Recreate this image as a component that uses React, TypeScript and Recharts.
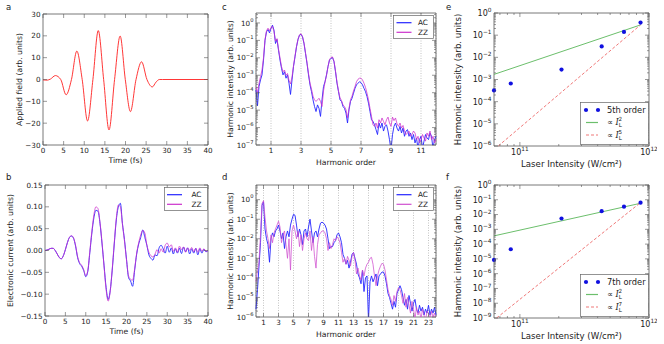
import React from 'react';
import {
  LineChart,
  ComposedChart,
  Line,
  Scatter,
  XAxis,
  YAxis,
  CartesianGrid,
  ReferenceArea,
  Legend,
} from 'recharts';

// ---------------- data ----------------

// a: applied field (arb. units) vs time (fs), read at extrema / zero crossings
const fieldTime = [0, 1, 1.8, 3.0, 4.3, 5.6, 6.9, 8.2, 9.5, 10.8, 12.1, 13.4, 14.7, 16.0, 17.35, 18.7, 19.95, 21.2, 22.55, 23.9, 25.2, 26.5, 27.4, 28.2, 29, 40];
const fieldValue = [-0.2, -0.3, 0.2, 1.8, 0, -7.0, 0, 13.0, 0, -19.0, 0, 22.4, 0, -23.1, 0, 19.9, 0, -14.7, 0, 8.1, 0, -3.4, -1.2, 0, 0, 0];
const timeTicks = [0, 5, 10, 15, 20, 25, 30, 35, 40];
const fieldTicks = [-30, -20, -10, 0, 10, 20, 30];

// b: electronic current, sampled every 0.5 fs from 0 to 40 fs
const acCurrent = [
  0.0, 0.001, 0.003, 0.005, 0.005, 0.0, -0.008, -0.016, -0.019, -0.012,
  0.002, 0.018, 0.03, 0.033, 0.028, 0.01, -0.016, -0.03, -0.036, -0.046,
  -0.06, -0.048, -0.005, 0.04, 0.075, 0.092, 0.09, 0.062, 0.015, -0.035,
  -0.085, -0.112, -0.092, -0.045, 0.015, 0.07, 0.1, 0.108, 0.062, 0.025,
  -0.02, -0.062, -0.07, -0.082, -0.045, -0.008, 0.015, 0.03, 0.047, 0.03,
  0.012, -0.01, -0.018, -0.022, -0.01, -0.012, 0.006, 0.012, 0.004, -0.006,
  0.01, -0.004, 0.006, -0.008, 0.004, -0.006, 0.005, -0.007, 0.008, -0.003,
  0.006, -0.008, 0.004, -0.006, 0.005, -0.01, 0.004, -0.006, 0.003, -0.003,
  0.0,
];
const zzCurrent = [
  0.0, 0.001, 0.003, 0.005, 0.005, 0.0, -0.008, -0.016, -0.019, -0.012,
  0.002, 0.018, 0.03, 0.034, 0.029, 0.012, -0.014, -0.028, -0.034, -0.044,
  -0.058, -0.046, -0.002, 0.044, 0.082, 0.1, 0.096, 0.064, 0.018, -0.038,
  -0.09, -0.116, -0.094, -0.042, 0.018, 0.074, 0.104, 0.1, 0.06, 0.022,
  -0.022, -0.058, -0.066, -0.068, -0.042, -0.006, 0.018, 0.036, 0.046, 0.04,
  0.012, -0.004, -0.012, -0.015, -0.008, 0.002, -0.006, 0.004, -0.004, 0.012,
  0.017, 0.008, 0.013, -0.002, 0.006, -0.004, 0.01, 0.002, 0.008, -0.004,
  0.006, 0.0, 0.007, -0.003, 0.005, -0.004, 0.006, -0.002, 0.004, -0.002,
  0.0,
];
const currentTicks = [-0.15, -0.1, -0.05, 0, 0.05, 0.1, 0.15];

// c: log10 of harmonic intensity, harmonic order 0..12 in steps of 0.1
const acSpectrumC = [
  -3.84, -4.75, -3.65, -3.27, -2.98, -2.13, -1.0, -0.51, -0.38, -0.57,
  -0.32, -0.13, -0.42, -1.18, -0.95, -1.56, -2.13, -2.6, -2.98, -2.8,
  -3.17, -2.98, -3.46, -4.1, -3.27, -2.5, -1.94, -1.37, -0.95, -0.7,
  -0.65, -0.8, -1.18, -1.75, -2.32, -2.98, -3.55, -3.94, -4.41, -4.79,
  -5.08, -4.7, -4.9, -5.36, -4.41, -3.65, -3.37, -2.98, -2.5, -2.13,
  -2.03, -1.98, -2.22, -2.8, -3.46, -3.94, -4.41, -4.5, -4.79, -4.9,
  -5.17, -5.74, -4.98, -4.5, -4.32, -4.03, -3.75, -3.55, -3.46, -3.37,
  -3.42, -3.55, -3.75, -3.94, -4.22, -4.6, -5.08, -5.55, -5.65, -5.84,
  -6.12, -6.4, -5.74, -6.03, -5.74, -6.2, -5.93, -5.84, -6.2, -6.7,
  -7.3, -6.4, -5.93, -5.74, -6.03, -6.2, -5.93, -6.31, -6.03, -6.5,
  -6.2, -6.12, -6.5, -6.31, -6.69, -6.4, -6.88, -6.6, -7.2, -6.69,
  -6.5, -7.2, -6.78, -6.4, -6.6, -6.69, -6.31, -6.5, -7.2, -6.69,
  -6.5,
];
const zzSpectrumC = [
  -3.7, -4.0, -3.46, -3.08, -2.7, -2.0, -0.95, -0.45, -0.3, -0.45,
  -0.25, -0.2, -0.5, -1.05, -0.9, -1.5, -2.0, -2.5, -2.8, -2.7,
  -3.0, -2.9, -3.3, -3.5, -3.1, -2.45, -1.9, -1.35, -0.93, -0.68,
  -0.62, -0.78, -1.15, -1.7, -2.28, -2.9, -3.45, -3.8, -4.2, -4.41,
  -4.5, -4.41, -4.32, -4.5, -4.79, -3.9, -3.4, -3.0, -2.5, -2.1,
  -1.98, -1.95, -2.2, -2.75, -3.4, -3.9, -4.3, -4.45, -4.7, -4.8,
  -4.98, -5.45, -4.9, -4.4, -4.2, -3.9, -3.65, -3.37, -3.23, -3.17,
  -3.17, -3.27, -3.46, -3.7, -4.03, -4.41, -4.9, -5.36, -5.84, -5.93,
  -5.74, -6.03, -5.55, -5.74, -5.45, -5.65, -5.84, -5.55, -5.4, -5.74,
  -5.93, -5.4, -5.6, -5.45, -5.78, -5.93, -5.74, -6.03, -5.88, -6.2,
  -6.4, -6.31, -6.2, -6.5, -6.4, -6.2, -6.31, -6.69, -6.5, -6.88,
  -6.69, -6.4, -6.6, -6.78, -6.31, -6.5, -6.2, -6.69, -6.5, -6.88,
  -6.69,
];
const harmonicTicksC = [1, 3, 5, 7, 9, 11];
const decadesC = [-7, -6, -5, -4, -3, -2, -1, 0];

// d: log10 of harmonic intensity, harmonic order 0..24 in steps of 0.2
const acSpectrumD = [
  -5.6, -4.6, -3.4, -2.2, -0.3,
  -0.1, -1.5, -2.0, -2.3, -3.2,
  -2.0, -1.7, -1.9, -1.6, -1.5,
  -1.3, -1.6, -2.0, -1.7, -2.5,
  -1.9, -1.6, -1.9, -1.3, -1.0,
  -0.75, -0.8, -1.3, -1.9, -1.5,
  -1.8, -2.3, -1.6, -1.5, -1.9,
  -1.4, -1.0, -1.6, -2.2, -1.7,
  -1.6, -1.9, -1.5, -1.2, -1.15,
  -1.2, -1.3, -1.5, -2.0, -2.5,
  -2.4, -2.4, -2.2, -2.1, -1.8,
  -1.7, -1.9, -2.2, -2.8, -3.0,
  -3.3, -3.1, -3.5, -3.2, -2.8,
  -2.7, -3.0, -3.3, -3.8, -4.0,
  -4.3, -3.6, -4.7, -4.0, -3.9,
  -6.2, -4.2, -3.9, -4.2, -4.0,
  -3.8, -4.4, -3.9, -3.8, -3.7,
  -3.7, -3.9, -4.3, -4.8, -5.0,
  -5.3, -5.6, -5.2, -5.5, -4.8,
  -4.6, -4.4, -4.6, -5.0, -5.4,
  -5.1, -5.6, -4.9, -5.3, -5.7,
  -5.3, -5.1, -5.6, -5.8, -5.4,
  -5.7, -5.5, -5.9, -5.6, -5.8,
  -5.4, -5.9, -5.6, -5.8, -5.5,
  -5.9,
];
const zzSpectrumD = [
  -4.2, -3.6, -3.2, -1.8, -0.2,
  -0.05, -0.9, -1.6, -2.0, -2.5,
  -1.8, -2.2, -1.7, -1.5, -1.3,
  -1.1, -1.4, -2.2, -1.8, -1.6,
  -2.3, -3.0, -2.0, -3.6, -1.6,
  -1.3, -1.6, -2.0, -1.6, -2.4,
  -1.8, -2.6, -2.0, -1.7, -2.0,
  -2.1, -1.6, -2.6, -1.9, -2.9,
  -3.5, -2.3, -1.8, -1.7, -1.6,
  -1.6, -1.7, -2.0, -2.6, -2.2,
  -2.5, -2.3, -2.0, -2.1, -1.9,
  -2.0, -2.2, -2.7, -3.2, -3.0,
  -3.3, -2.9, -3.1, -3.4, -2.9,
  -2.7, -3.1, -3.8, -3.5, -3.9,
  -4.1, -3.6, -3.9, -3.5, -3.3,
  -3.2, -3.0, -2.95, -3.3, -3.9,
  -4.4, -3.9, -3.6, -3.4, -3.25,
  -3.3, -3.6, -4.1, -4.6, -4.9,
  -5.1, -5.4, -4.9, -5.2, -4.7,
  -4.5, -4.6, -4.9, -5.3, -4.8,
  -5.5, -5.0, -5.4, -5.8, -5.2,
  -5.6, -6.1, -5.5, -5.9, -5.7,
  -6.1, -5.6, -5.9, -6.2, -5.7,
  -5.8, -6.1, -5.7, -6.0, -5.8,
  -6.1,
];
const harmonicTicksD = [1, 3, 5, 7, 9, 11, 13, 15, 17, 19, 21, 23];
const decadesD = [-6, -5, -4, -3, -2, -1, 0];

// e / f: harmonic intensity vs laser intensity (W/cm^2)
const laserIntensity = [6.3e10, 8.5e10, 2.1e11, 4.3e11, 6.4e11, 8.6e11];
const fifthOrder = [3.2e-4, 6.6e-4, 2.8e-3, 3.1e-2, 0.14, 0.37];
const seventhOrder = [8.5e-6, 4.5e-5, 5.4e-3, 1.7e-2, 3.4e-2, 6.4e-2];
const fitQuadE = [{ x: 6.3e10, y: 1.7e-3 }, { x: 8.6e11, y: 0.29 }];
const fitFifthE = [{ x: 6.8e10, y: 1e-6 }, { x: 8.6e11, y: 0.29 }];
const fitQuadF = [{ x: 6.3e10, y: 3.6e-4 }, { x: 8.6e11, y: 5.8e-2 }];
const fitSeventhF = [{ x: 6.6e10, y: 1e-9 }, { x: 8.6e11, y: 6.5e-2 }];
const laserTicks = [1e11, 1e12];
const decadesE = [1e-6, 1e-5, 1e-4, 1e-3, 1e-2, 1e-1, 1];
const decadesF = [1e-9, 1e-8, 1e-7, 1e-6, 1e-5, 1e-4, 1e-3, 1e-2, 1e-1, 1];

// ---------------- styling / layout ----------------

const FONT = '"DejaVu Sans", "Liberation Sans", sans-serif';
const INK = '#222';
const FRAME = '#555';
const RED = '#ff2020';
const BLUE = '#2424ff';
const MAGENTA = '#cc30cc';
const MAGENTA_D = '#d050d0';
const GREEN = '#6cbf6c';
const PINK = '#f07878';
const DOT = '#1010e0';

// a-d and e-f come from differently scaled figures, so text sizes differ
type Fonts = { tick: number; label: number; legend: number; sup: number };
const FS_LEFT: Fonts = { tick: 7.2, label: 7.7, legend: 7.3, sup: 5.2 };
const FS_RIGHT: Fonts = { tick: 8, label: 8.6, legend: 8.3, sup: 5.8 };

const ML = 56, MT = 14, MR = 8, MB = 30;
type Box = { x: number; y: number; w: number; h: number };
const BOX_A: Box = { x: 43, y: 14, w: 165, h: 131 };
const BOX_B: Box = { x: 45, y: 185, w: 163, h: 131 };
const BOX_C: Box = { x: 256, y: 13, w: 180, h: 132 };
const BOX_D: Box = { x: 256, y: 185, w: 180, h: 132 };
const BOX_E: Box = { x: 494, y: 13, w: 155, h: 133 };
const BOX_F: Box = { x: 494, y: 185, w: 155, h: 133 };

const place = (b: Box): React.CSSProperties => ({ position: 'absolute', left: b.x - ML, top: b.y - MT });
const dims = (b: Box) => ({
  width: b.w + ML + MR,
  height: b.h + MT + MB,
  margin: { top: MT, right: MR, bottom: 0, left: 0 },
});

const minus = (s: string) => s.replace('-', '\u2212');
const pow10 = (n: number, sup: number) => (
  <>
    10<tspan dy={-3.8} fontSize={sup}>{minus(String(n))}</tspan>
  </>
);
const isInt = (v: number) => Math.abs(v - Math.round(v)) < 1e-6;
const isDecade = (v: number) => isInt(Math.log10(v));

// minor tick positions for axes that hold log10 values
const logMinor = (lo: number, hi: number) => {
  const out: number[] = [];
  for (let n = Math.floor(lo); n < hi; n++) {
    for (let k = 2; k <= 9; k++) {
      const v = n + Math.log10(k);
      if (v > lo && v < hi) out.push(v);
    }
  }
  return out;
};
// minor tick positions for true log axes
const valueMinor = (decades: number[], lo: number, hi: number) => {
  const out: number[] = [];
  decades.forEach((d) => {
    for (let k = 2; k <= 9; k++) {
      const v = d * k;
      if (v > lo && v < hi) out.push(v);
    }
  });
  return out;
};

const xTick = (b: Box, fs: number, fmt: (v: number) => React.ReactNode, major: (v: number) => boolean = () => true) =>
  (p: any) => {
    const { x, y, payload } = p;
    const m = major(payload.value);
    const len = m ? 4 : 2;
    return (
      <g>
        <line x1={x} x2={x} y1={y} y2={y - len} stroke={FRAME} strokeWidth={0.6} />
        <line x1={x} x2={x} y1={y - b.h} y2={y - b.h + len} stroke={FRAME} strokeWidth={0.6} />
        {m && (
          <text x={x} y={y + fs + 0.8} textAnchor="middle" fontSize={fs} fill={INK}>
            {fmt(payload.value)}
          </text>
        )}
      </g>
    );
  };

const yTick = (b: Box, fs: number, fmt: (v: number) => React.ReactNode, major: (v: number) => boolean = () => true) =>
  (p: any) => {
    const { x, y, payload } = p;
    const m = major(payload.value);
    const len = m ? 4 : 2;
    return (
      <g>
        <line x1={x} x2={x + len} y1={y} y2={y} stroke={FRAME} strokeWidth={0.6} />
        <line x1={x + b.w} x2={x + b.w - len} y1={y} y2={y} stroke={FRAME} strokeWidth={0.6} />
        {m && (
          <text x={x - 2.5} y={y + fs * 0.36} textAnchor="end" fontSize={fs} fill={INK}>
            {fmt(payload.value)}
          </text>
        )}
      </g>
    );
  };

const xTitle = (b: Box, fs: number, text: React.ReactNode, dy: number) => () => (
  <text x={ML + b.w / 2} y={MT + b.h + dy} textAnchor="middle" fontSize={fs} fill={INK}>
    {text}
  </text>
);

const yTitle = (b: Box, fs: number, text: string, dx: number, letter: string, lx: number, ly: number) => () => (
  <g>
    <text
      transform={`translate(${ML + dx},${MT + b.h / 2}) rotate(-90)`}
      textAnchor="middle"
      fontSize={fs}
      fill={INK}
    >
      {text}
    </text>
    <text x={ML + lx} y={MT + ly} fontSize={8.5} fill={INK}>
      {letter}
    </text>
  </g>
);

const axisBase = { axisLine: false, tickLine: false, tickSize: 0, tickMargin: 0, interval: 0 as const };

type Item = { label: React.ReactNode; color: string; kind: 'line' | 'dash' | 'dots' };
const legendAt = (
  b: Box, fs: number, px: number, py: number, w: number, h: number,
  items: Item[], rows: number[], x0: number, x1: number, tx: number,
) => (
  <Legend
    verticalAlign="middle"
    align="center"
    layout="horizontal"
    wrapperStyle={{ left: px - (b.x - ML), top: py - (b.y - MT), width: w, height: h, margin: 0, padding: 0 }}
    content={() => (
      <svg width={w} height={h} style={{ display: 'block', fontFamily: FONT }}>
        <rect x={0.5} y={0.5} width={w - 1} height={h - 1} fill="#fff" stroke="#666" strokeWidth={0.7} />
        {items.map((it, i) => (
          <g key={i}>
            {it.kind === 'dots' ? (
              <>
                <circle cx={x0} cy={rows[i]} r={2.1} fill={it.color} />
                <circle cx={x1} cy={rows[i]} r={2.1} fill={it.color} />
              </>
            ) : (
              <line
                x1={x0}
                x2={x1}
                y1={rows[i]}
                y2={rows[i]}
                stroke={it.color}
                strokeWidth={1.2}
                strokeDasharray={it.kind === 'dash' ? '3 2' : undefined}
              />
            )}
            <text x={tx} y={rows[i] + fs * 0.36} fontSize={fs} fill={INK}>
              {it.label}
            </text>
          </g>
        ))}
      </svg>
    )}
  />
);

const propLabel = (n: number) => (
  <>
    {'\u221D '}
    <tspan fontStyle="italic" fontFamily="'DejaVu Serif', serif">I</tspan>
    <tspan fontSize={5.6} dy={2}>L</tspan>
    <tspan fontSize={5.6} dx={-3.4} dy={-6}>{n}</tspan>
  </>
);

// ---------------- panels ----------------

const fieldRows = fieldTime.map((t, i) => ({ t, v: fieldValue[i] }));
const currentRows = acCurrent.map((ac, i) => ({ t: i * 0.5, ac, zz: zzCurrent[i] }));
const spectrumRowsC = acSpectrumC.map((ac, i) => ({ h: i / 10, ac, zz: zzSpectrumC[i] }));
const spectrumRowsD = acSpectrumD.map((ac, i) => ({ h: Math.round(i * 2) / 10, ac, zz: zzSpectrumD[i] }));

function PanelA() {
  const b = BOX_A;
  const f = FS_LEFT;
  return (
    <div style={place(b)}>
      <LineChart {...dims(b)} data={fieldRows}>
        <XAxis
          dataKey="t"
          type="number"
          domain={[0, 40]}
          ticks={timeTicks}
          height={MB}
          {...axisBase}
          tick={xTick(b, f.tick, (v) => v)}
          label={xTitle(b, f.label, 'Time (fs)', 17.7)}
        />
        <YAxis
          type="number"
          domain={[-30, 30]}
          ticks={fieldTicks}
          width={ML}
          {...axisBase}
          tick={yTick(b, f.tick, (v) => minus(String(v)))}
          label={yTitle(b, f.label, 'Applied field (arb. units)', -20.8, 'a', -37, -4.5)}
        />
        <ReferenceArea x1={0} x2={40} y1={-30} y2={30} fill="none" stroke={FRAME} strokeWidth={0.8} ifOverflow="visible" />
        <Line dataKey="v" type="monotone" stroke={RED} strokeWidth={0.9} dot={false} isAnimationActive={false} />
      </LineChart>
    </div>
  );
}

function PanelB() {
  const b = BOX_B;
  const f = FS_LEFT;
  return (
    <div style={place(b)}>
      <LineChart {...dims(b)} data={currentRows}>
        <XAxis
          dataKey="t"
          type="number"
          domain={[0, 40]}
          ticks={timeTicks}
          height={MB}
          {...axisBase}
          tick={xTick(b, f.tick, (v) => v)}
          label={xTitle(b, f.label, 'Time (fs)', 18)}
        />
        <YAxis
          type="number"
          domain={[-0.15, 0.15]}
          ticks={currentTicks}
          width={ML}
          {...axisBase}
          tick={yTick(b, f.tick, (v) => minus(v.toFixed(2)))}
          label={yTitle(b, f.label, 'Electronic current (arb. units)', -32.3, 'b', -39, -5.5)}
        />
        <ReferenceArea x1={0} x2={40} y1={-0.15} y2={0.15} fill="none" stroke={FRAME} strokeWidth={0.8} ifOverflow="visible" />
        <Line dataKey="ac" type="monotone" stroke={BLUE} strokeWidth={0.9} dot={false} isAnimationActive={false} />
        <Line dataKey="zz" type="monotone" stroke={MAGENTA} strokeOpacity={0.85} strokeWidth={0.9} dot={false} isAnimationActive={false} />
        {legendAt(
          b, f.legend, 164, 187, 44, 24,
          [
            { label: 'AC', color: BLUE, kind: 'line' },
            { label: 'ZZ', color: MAGENTA, kind: 'line' },
          ],
          [7.7, 17.3], 3, 18, 27.5,
        )}
      </LineChart>
    </div>
  );
}

type SpecProps = {
  b: Box;
  rows: { h: number; ac: number; zz: number }[];
  xMax: number;
  xTicks: number[];
  decades: number[];
  yHi: number;
  letter: string;
  zz: string;
};

function SpectrumPanel({ b, rows, xMax, xTicks, decades, yHi, letter, zz }: SpecProps) {
  const f = FS_LEFT;
  const yLo = decades[0];
  const yTicks = [...decades, ...logMinor(yLo, yHi)];
  return (
    <div style={place(b)}>
      <LineChart {...dims(b)} data={rows}>
        <CartesianGrid horizontal={false} stroke="#9a9a9a" strokeWidth={0.6} strokeDasharray="1 1.5" />
        <XAxis
          dataKey="h"
          type="number"
          domain={[0, xMax]}
          ticks={xTicks}
          height={MB}
          {...axisBase}
          tick={xTick(b, f.tick, (v) => v)}
          label={xTitle(b, f.label, 'Harmonic order', 19.7)}
        />
        <YAxis
          type="number"
          domain={[yLo, yHi]}
          allowDataOverflow
          ticks={yTicks}
          width={ML}
          {...axisBase}
          tick={yTick(b, f.tick, (v) => pow10(Math.round(v), f.sup), isInt)}
          label={yTitle(b, f.label, 'Harmonic intensity (arb. units)', -23.3, letter, -34, letter === 'c' ? -3.5 : -5.5)}
        />
        <ReferenceArea x1={0} x2={xMax} y1={yLo} y2={yHi} fill="none" stroke={FRAME} strokeWidth={0.8} ifOverflow="visible" />
        <Line dataKey="ac" type="linear" stroke={BLUE} strokeWidth={0.9} dot={false} isAnimationActive={false} />
        <Line dataKey="zz" type="linear" stroke={zz} strokeOpacity={0.85} strokeWidth={0.9} dot={false} isAnimationActive={false} />
        {legendAt(
          b, f.legend, 393, b.y + 2, 41, 24,
          [
            { label: 'AC', color: BLUE, kind: 'line' },
            { label: 'ZZ', color: zz, kind: 'line' },
          ],
          [7.7, 17.3], 3.5, 18.5, 25,
        )}
      </LineChart>
    </div>
  );
}

type ScaleProps = {
  b: Box;
  values: number[];
  quad: { x: number; y: number }[];
  steep: { x: number; y: number }[];
  decades: number[];
  letter: string;
  order: string;
  n: number;
};

function ScalingPanel({ b, values, quad, steep, decades, letter, order, n }: ScaleProps) {
  const f = FS_RIGHT;
  const xLo = 6.3e10;
  const xHi = 1e12;
  const yLo = decades[0];
  const yHi = decades[decades.length - 1];
  const pts = laserIntensity.map((x, i) => ({ x, y: values[i] }));
  const xTicks = [...laserTicks, ...valueMinor([1e10, 1e11], xLo, xHi)];
  const yTicks = [...decades, ...valueMinor(decades, yLo, yHi)];
  return (
    <div style={place(b)}>
      <ComposedChart {...dims(b)}>
        <XAxis
          dataKey="x"
          type="number"
          scale="log"
          domain={[xLo, xHi]}
          ticks={xTicks}
          height={MB}
          {...axisBase}
          tick={xTick(b, f.tick, (v) => pow10(Math.round(Math.log10(v)), f.sup), isDecade)}
          label={xTitle(b, f.label, 'Laser Intensity (W/cm\u00B2)', 20.6)}
        />
        <YAxis
          dataKey="y"
          type="number"
          scale="log"
          domain={[yLo, yHi]}
          ticks={yTicks}
          width={ML}
          {...axisBase}
          tick={yTick(b, f.tick, (v) => pow10(Math.round(Math.log10(v)), f.sup), isDecade)}
          label={yTitle(b, f.label, 'Harmonic intensity (arb. units)', -33.5, letter, -48, letter === 'e' ? -3.5 : -5.5)}
        />
        <ReferenceArea x1={xLo} x2={xHi} y1={yLo} y2={yHi} fill="none" stroke={FRAME} strokeWidth={0.8} ifOverflow="visible" />
        <Line data={quad} dataKey="y" type="linear" stroke={GREEN} strokeWidth={1} dot={false} isAnimationActive={false} />
        <Line data={steep} dataKey="y" type="linear" stroke={PINK} strokeWidth={1} strokeDasharray="3 2" dot={false} isAnimationActive={false} />
        <Scatter
          data={pts}
          dataKey="y"
          isAnimationActive={false}
          shape={(s: any) => <circle cx={s.cx} cy={s.cy} r={2.1} fill={DOT} />}
        />
        {legendAt(
          b, f.legend, 580, b.y + 89, 69, 43,
          [
            { label: `${order} order`, color: DOT, kind: 'dots' },
            { label: propLabel(2), color: GREEN, kind: 'line' },
            { label: propLabel(n), color: PINK, kind: 'dash' },
          ],
          [8, 20.5, 33], 6, 18, 27,
        )}
      </ComposedChart>
    </div>
  );
}

export default function App() {
  return (
    <div
      style={{
        position: 'absolute',
        left: 0,
        top: 0,
        width: 664,
        height: 344,
        overflow: 'hidden',
        background: '#fff',
        fontFamily: FONT,
      }}
    >
      <PanelA />
      <PanelB />
      <SpectrumPanel b={BOX_C} rows={spectrumRowsC} xMax={12} xTicks={harmonicTicksC} decades={decadesC} yHi={0.57} letter="c" zz={MAGENTA} />
      <SpectrumPanel b={BOX_D} rows={spectrumRowsD} xMax={24} xTicks={harmonicTicksD} decades={decadesD} yHi={0.75} letter="d" zz={MAGENTA_D} />
      <ScalingPanel b={BOX_E} values={fifthOrder} quad={fitQuadE} steep={fitFifthE} decades={decadesE} letter="e" order="5th" n={5} />
      <ScalingPanel b={BOX_F} values={seventhOrder} quad={fitQuadF} steep={fitSeventhF} decades={decadesF} letter="f" order="7th" n={7} />
    </div>
  );
}
